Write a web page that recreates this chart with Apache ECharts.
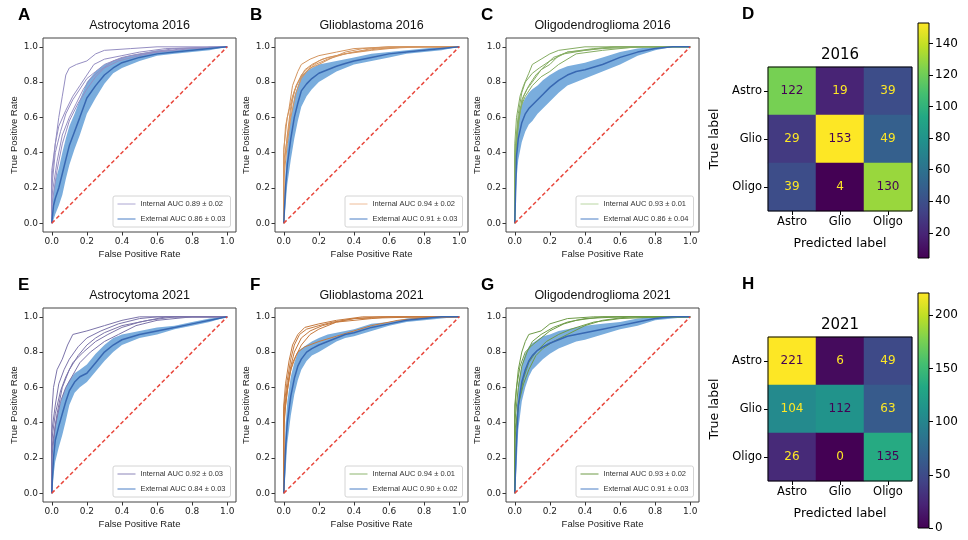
<!DOCTYPE html>
<html>
<head>
<meta charset="utf-8">
<script src="https://cdn.jsdelivr.net/npm/echarts@6/dist/echarts.min.js"></script>
<style>
  html, body { margin: 0; background: #fff; }
  #chart { width: 968px; height: 540px; }
</style>
</head>
<body>
<div id="chart"></div>
<script>
// ---- data ----
const fprTicks = [0, 0.2, 0.4, 0.6, 0.8, 1.0]
const chanceLine = [[0, 0], [1, 1]]
// common fpr grid for the external mean curve and its +/- band
const meanFpr = [0, 0.01, 0.02, 0.04, 0.06, 0.08, 0.1, 0.13, 0.16, 0.2, 0.25, 0.3, 0.35, 0.4, 0.5, 0.6, 0.7, 0.8, 0.9, 1.0]

// A - Astrocytoma 2016
const astro2016Mean = [0, 0.1, 0.14, 0.2, 0.28, 0.36, 0.44, 0.52, 0.6, 0.71, 0.78, 0.84, 0.88, 0.91, 0.94, 0.96, 0.97, 0.98, 0.99, 1]
const astro2016Low = [0, 0.02, 0.05, 0.1, 0.16, 0.25, 0.33, 0.42, 0.5, 0.62, 0.71, 0.79, 0.85, 0.88, 0.92, 0.95, 0.96, 0.97, 0.98, 1]
const astro2016High = [0, 0.18, 0.24, 0.31, 0.4, 0.48, 0.55, 0.62, 0.7, 0.8, 0.86, 0.9, 0.92, 0.94, 0.96, 0.98, 0.98, 0.99, 1, 1]
const astro2016Folds = [
    [[0, 0], [0, 0.3], [0.02, 0.45], [0.04, 0.6], [0.06, 0.72], [0.08, 0.84], [0.1, 0.88], [0.14, 0.9], [0.2, 0.92], [0.25, 0.96], [0.3, 0.98], [0.45, 0.99], [0.6, 1], [1, 1]],
    [[0, 0], [0, 0.2], [0.02, 0.4], [0.05, 0.52], [0.08, 0.62], [0.12, 0.7], [0.16, 0.76], [0.2, 0.82], [0.25, 0.86], [0.3, 0.9], [0.4, 0.94], [0.5, 0.96], [0.7, 0.99], [1, 1]],
    [[0, 0], [0, 0.15], [0.03, 0.35], [0.06, 0.5], [0.1, 0.6], [0.14, 0.68], [0.18, 0.76], [0.22, 0.82], [0.28, 0.87], [0.35, 0.92], [0.45, 0.95], [0.6, 0.97], [0.8, 0.99], [1, 1]],
    [[0, 0], [0, 0.25], [0.02, 0.45], [0.04, 0.55], [0.08, 0.64], [0.12, 0.72], [0.16, 0.78], [0.2, 0.84], [0.24, 0.9], [0.3, 0.93], [0.4, 0.95], [0.5, 0.97], [0.65, 0.99], [1, 1]],
    [[0, 0], [0, 0.1], [0.03, 0.3], [0.06, 0.45], [0.1, 0.58], [0.15, 0.68], [0.2, 0.76], [0.25, 0.83], [0.3, 0.88], [0.38, 0.92], [0.5, 0.95], [0.6, 0.97], [0.75, 0.99], [1, 1]],
]

// B - Glioblastoma 2016
const glio2016Mean = [0, 0.2, 0.33, 0.48, 0.6, 0.68, 0.75, 0.79, 0.82, 0.85, 0.87, 0.89, 0.905, 0.92, 0.94, 0.96, 0.97, 0.98, 0.99, 1]
const glio2016Low = [0, 0.1, 0.22, 0.36, 0.48, 0.58, 0.66, 0.72, 0.76, 0.8, 0.83, 0.86, 0.88, 0.9, 0.92, 0.94, 0.96, 0.97, 0.98, 1]
const glio2016High = [0, 0.3, 0.44, 0.6, 0.72, 0.78, 0.84, 0.86, 0.88, 0.9, 0.91, 0.92, 0.93, 0.94, 0.96, 0.97, 0.98, 0.99, 1, 1]
const glio2016Folds = [
    [[0, 0], [0, 0.4], [0.01, 0.55], [0.03, 0.65], [0.05, 0.78], [0.08, 0.86], [0.1, 0.9], [0.15, 0.93], [0.2, 0.95], [0.3, 0.97], [0.4, 0.99], [0.6, 1], [1, 1]],
    [[0, 0], [0, 0.3], [0.02, 0.5], [0.04, 0.66], [0.06, 0.75], [0.1, 0.84], [0.14, 0.88], [0.2, 0.92], [0.25, 0.94], [0.35, 0.96], [0.5, 0.99], [0.7, 1], [1, 1]],
    [[0, 0], [0, 0.42], [0.02, 0.6], [0.05, 0.72], [0.08, 0.8], [0.12, 0.87], [0.16, 0.9], [0.22, 0.93], [0.3, 0.95], [0.4, 0.97], [0.55, 0.99], [0.8, 1], [1, 1]],
    [[0, 0], [0, 0.35], [0.03, 0.55], [0.05, 0.7], [0.07, 0.78], [0.1, 0.83], [0.15, 0.88], [0.2, 0.9], [0.28, 0.94], [0.35, 0.97], [0.45, 0.99], [0.6, 1], [1, 1]],
    [[0, 0], [0, 0.25], [0.02, 0.45], [0.04, 0.6], [0.07, 0.74], [0.1, 0.82], [0.13, 0.86], [0.18, 0.9], [0.25, 0.93], [0.35, 0.96], [0.5, 0.98], [0.7, 1], [1, 1]],
]

// C - Oligodendroglioma 2016
const oligo2016Mean = [0, 0.38, 0.48, 0.57, 0.62, 0.65, 0.67, 0.7, 0.73, 0.77, 0.81, 0.84, 0.86, 0.87, 0.9, 0.94, 0.97, 0.99, 1, 1]
const oligo2016Low = [0, 0.25, 0.36, 0.46, 0.52, 0.56, 0.58, 0.62, 0.65, 0.69, 0.74, 0.78, 0.8, 0.82, 0.86, 0.9, 0.95, 0.98, 1, 1]
const oligo2016High = [0, 0.5, 0.6, 0.67, 0.71, 0.74, 0.76, 0.78, 0.81, 0.84, 0.87, 0.89, 0.9, 0.91, 0.94, 0.97, 0.99, 1, 1, 1]
const oligo2016Folds = [
    [[0, 0], [0, 0.45], [0.01, 0.6], [0.03, 0.72], [0.05, 0.78], [0.08, 0.85], [0.1, 0.9], [0.15, 0.93], [0.2, 0.96], [0.25, 0.98], [0.4, 1], [1, 1]],
    [[0, 0], [0, 0.35], [0.02, 0.55], [0.04, 0.7], [0.07, 0.76], [0.1, 0.8], [0.15, 0.87], [0.2, 0.9], [0.25, 0.95], [0.3, 0.97], [0.45, 0.99], [0.6, 1], [1, 1]],
    [[0, 0], [0, 0.3], [0.02, 0.58], [0.05, 0.72], [0.08, 0.78], [0.12, 0.84], [0.18, 0.9], [0.22, 0.94], [0.28, 0.96], [0.4, 0.98], [0.55, 1], [1, 1]],
    [[0, 0], [0, 0.4], [0.02, 0.62], [0.04, 0.74], [0.06, 0.8], [0.1, 0.85], [0.14, 0.88], [0.2, 0.92], [0.3, 0.97], [0.5, 0.99], [0.75, 1], [1, 1]],
    [[0, 0], [0, 0.28], [0.01, 0.5], [0.03, 0.65], [0.06, 0.72], [0.1, 0.78], [0.15, 0.83], [0.2, 0.86], [0.25, 0.9], [0.35, 0.96], [0.5, 0.98], [0.7, 1], [1, 1]],
]

// E - Astrocytoma 2021
const astro2021Mean = [0, 0.2, 0.3, 0.38, 0.45, 0.52, 0.58, 0.63, 0.66, 0.68, 0.74, 0.8, 0.84, 0.87, 0.9, 0.92, 0.94, 0.96, 0.98, 1]
const astro2021Low = [0, 0.1, 0.18, 0.26, 0.33, 0.41, 0.5, 0.57, 0.6, 0.63, 0.69, 0.75, 0.8, 0.84, 0.88, 0.9, 0.93, 0.95, 0.97, 1]
const astro2021High = [0, 0.3, 0.4, 0.48, 0.55, 0.6, 0.64, 0.68, 0.7, 0.73, 0.79, 0.84, 0.88, 0.9, 0.92, 0.94, 0.95, 0.97, 0.99, 1]
const astro2021Folds = [
    [[0, 0], [0, 0.45], [0.01, 0.6], [0.03, 0.7], [0.06, 0.76], [0.09, 0.84], [0.12, 0.9], [0.2, 0.92], [0.3, 0.95], [0.4, 0.98], [0.5, 1], [1, 1]],
    [[0, 0], [0, 0.35], [0.02, 0.5], [0.04, 0.62], [0.07, 0.7], [0.1, 0.76], [0.15, 0.83], [0.2, 0.88], [0.28, 0.92], [0.38, 0.96], [0.5, 0.99], [0.6, 1], [1, 1]],
    [[0, 0], [0, 0.3], [0.02, 0.45], [0.05, 0.58], [0.08, 0.66], [0.12, 0.74], [0.18, 0.8], [0.25, 0.86], [0.32, 0.9], [0.4, 0.94], [0.5, 0.97], [0.65, 1], [1, 1]],
    [[0, 0], [0, 0.25], [0.03, 0.45], [0.06, 0.6], [0.1, 0.7], [0.15, 0.78], [0.2, 0.84], [0.25, 0.88], [0.3, 0.91], [0.4, 0.95], [0.55, 0.98], [0.7, 1], [1, 1]],
    [[0, 0], [0, 0.2], [0.02, 0.38], [0.05, 0.52], [0.08, 0.6], [0.12, 0.67], [0.16, 0.74], [0.22, 0.8], [0.3, 0.86], [0.38, 0.9], [0.48, 0.95], [0.6, 0.98], [0.8, 1], [1, 1]],
]

// F - Glioblastoma 2021
const glio2021Mean = [0, 0.25, 0.4, 0.55, 0.65, 0.72, 0.76, 0.8, 0.82, 0.84, 0.86, 0.88, 0.9, 0.91, 0.94, 0.96, 0.98, 0.99, 1, 1]
const glio2021Low = [0, 0.12, 0.28, 0.44, 0.56, 0.64, 0.7, 0.75, 0.78, 0.8, 0.83, 0.86, 0.88, 0.89, 0.92, 0.95, 0.97, 0.98, 0.99, 1]
const glio2021High = [0, 0.38, 0.52, 0.66, 0.74, 0.8, 0.82, 0.84, 0.86, 0.88, 0.9, 0.91, 0.92, 0.93, 0.96, 0.97, 0.99, 1, 1, 1]
const glio2021Folds = [
    [[0, 0], [0, 0.5], [0.01, 0.62], [0.03, 0.75], [0.05, 0.84], [0.08, 0.9], [0.12, 0.94], [0.2, 0.96], [0.3, 0.98], [0.45, 1], [1, 1]],
    [[0, 0], [0, 0.45], [0.02, 0.6], [0.04, 0.72], [0.06, 0.8], [0.1, 0.88], [0.15, 0.92], [0.22, 0.95], [0.3, 0.97], [0.5, 0.99], [0.6, 1], [1, 1]],
    [[0, 0], [0, 0.4], [0.02, 0.58], [0.04, 0.7], [0.07, 0.78], [0.1, 0.84], [0.15, 0.9], [0.2, 0.93], [0.3, 0.97], [0.4, 0.99], [0.55, 1], [1, 1]],
    [[0, 0], [0, 0.35], [0.01, 0.5], [0.03, 0.65], [0.05, 0.74], [0.08, 0.8], [0.12, 0.83], [0.2, 0.86], [0.3, 0.89], [0.4, 0.92], [0.5, 0.95], [0.65, 0.98], [0.85, 1], [1, 1]],
    [[0, 0], [0, 0.48], [0.02, 0.64], [0.04, 0.76], [0.06, 0.84], [0.09, 0.9], [0.13, 0.93], [0.2, 0.95], [0.28, 0.97], [0.4, 0.99], [0.8, 1], [1, 1]],
]

// G - Oligodendroglioma 2021
const oligo2021Mean = [0, 0.3, 0.5, 0.63, 0.7, 0.75, 0.78, 0.81, 0.83, 0.85, 0.87, 0.89, 0.9, 0.91, 0.93, 0.95, 0.97, 0.99, 1, 1]
const oligo2021Low = [0, 0.15, 0.36, 0.52, 0.6, 0.66, 0.7, 0.73, 0.76, 0.79, 0.82, 0.84, 0.86, 0.87, 0.9, 0.93, 0.95, 0.98, 0.99, 1]
const oligo2021High = [0, 0.45, 0.62, 0.73, 0.79, 0.83, 0.85, 0.87, 0.89, 0.9, 0.92, 0.93, 0.94, 0.95, 0.96, 0.97, 0.99, 1, 1, 1]
const oligo2021Folds = [
    [[0, 0], [0, 0.5], [0.02, 0.7], [0.04, 0.8], [0.06, 0.86], [0.08, 0.9], [0.15, 0.92], [0.2, 0.96], [0.3, 0.99], [0.45, 1], [1, 1]],
    [[0, 0], [0, 0.4], [0.02, 0.6], [0.04, 0.72], [0.07, 0.8], [0.1, 0.86], [0.15, 0.9], [0.22, 0.94], [0.3, 0.97], [0.4, 0.99], [0.6, 1], [1, 1]],
    [[0, 0], [0, 0.3], [0.02, 0.5], [0.05, 0.62], [0.08, 0.7], [0.12, 0.78], [0.16, 0.82], [0.22, 0.86], [0.3, 0.9], [0.4, 0.95], [0.5, 0.98], [0.65, 1], [1, 1]],
    [[0, 0], [0, 0.35], [0.03, 0.55], [0.05, 0.65], [0.08, 0.74], [0.12, 0.8], [0.18, 0.86], [0.25, 0.9], [0.32, 0.93], [0.45, 0.97], [0.6, 0.99], [0.85, 1], [1, 1]],
    [[0, 0], [0, 0.45], [0.01, 0.6], [0.03, 0.72], [0.06, 0.8], [0.1, 0.84], [0.15, 0.88], [0.2, 0.92], [0.28, 0.96], [0.35, 0.98], [0.5, 1], [1, 1]],
]

// confusion matrices (rows = true label, cols = predicted label)
const classNames = ['Astro', 'Glio', 'Oligo']
const cm2016 = [
    [122, 19, 39],
    [29, 153, 49],
    [39, 4, 130],
]
const cm2021 = [
    [221, 6, 49],
    [104, 112, 63],
    [26, 0, 135],
]
const cbTicks2016 = [20, 40, 60, 80, 100, 120, 140]
const cbTicks2021 = [0, 50, 100, 150, 200]

// ---- styling ----
const VIRIDIS = ['#440154', '#482475', '#414487', '#355f8d', '#2a788e', '#21918c', '#22a884', '#44bf70', '#7ad151', '#bddf26', '#fde725']
const MEAN_COLOR = '#3868b2'
const BAND_COLOR = '#7aaddd'
const EXT_LEGEND = '#4a7fc6'
const LABEL_FONT = 'Liberation Sans'
const TICK_FONT = 'DejaVu Sans'

const rocPanels = [
    { letter: 'A', title: 'Astrocytoma 2016', x: 43, y: 38, folds: astro2016Folds, mean: astro2016Mean, low: astro2016Low, high: astro2016High, foldColor: '#958ec2', intLegend: '#aca6d2', intName: 'Internal AUC 0.89 ± 0.02', extName: 'External AUC 0.86 ± 0.03' },
    { letter: 'B', title: 'Glioblastoma 2016', x: 275, y: 38, folds: glio2016Folds, mean: glio2016Mean, low: glio2016Low, high: glio2016High, foldColor: '#d4955f', intLegend: '#eebc98', intName: 'Internal AUC 0.94 ± 0.02', extName: 'External AUC 0.91 ± 0.03' },
    { letter: 'C', title: 'Oligodendroglioma 2016', x: 506, y: 38, folds: oligo2016Folds, mean: oligo2016Mean, low: oligo2016Low, high: oligo2016High, foldColor: '#86ad63', intLegend: '#b9d6a2', intName: 'Internal AUC 0.93 ± 0.01', extName: 'External AUC 0.86 ± 0.04' },
    { letter: 'E', title: 'Astrocytoma 2021', x: 43, y: 308, folds: astro2021Folds, mean: astro2021Mean, low: astro2021Low, high: astro2021High, foldColor: '#7c74aa', intLegend: '#8c85b9', intName: 'Internal AUC 0.92 ± 0.03', extName: 'External AUC 0.84 ± 0.03' },
    { letter: 'F', title: 'Glioblastoma 2021', x: 275, y: 308, folds: glio2021Folds, mean: glio2021Mean, low: glio2021Low, high: glio2021High, foldColor: '#c67a3e', intLegend: '#8db56e', intName: 'Internal AUC 0.94 ± 0.01', extName: 'External AUC 0.90 ± 0.02' },
    { letter: 'G', title: 'Oligodendroglioma 2021', x: 506, y: 308, folds: oligo2021Folds, mean: oligo2021Mean, low: oligo2021Low, high: oligo2021High, foldColor: '#6e9b47', intLegend: '#6e9b47', intName: 'Internal AUC 0.93 ± 0.02', extName: 'External AUC 0.91 ± 0.03' },
]
const ROC_W = 193
const ROC_H = 194

const cmPanels = [
    { letter: 'D', year: '2016', cm: cm2016, ticks: cbTicks2016, x: 768, y: 67, cbTop: 23, letterY: 14 },
    { letter: 'H', year: '2021', cm: cm2021, ticks: cbTicks2021, x: 768, y: 337, cbTop: 293, letterY: 284 },
]
const CM_SIZE = 144

const grid = []
const xAxis = []
const yAxis = []
const series = []
const legend = []
const title = []
const graphic = []
const visualMap = []

const letter = (text, x, y) => ({
    type: 'text',
    x: x,
    y: y,
    style: { text: text, fill: '#000', font: 'bold 17px ' + LABEL_FONT, textVerticalAlign: 'middle', verticalAlign: 'middle' },
})

rocPanels.forEach((p) => {
    const gi = grid.length
    grid.push({ left: p.x, top: p.y, width: ROC_W, height: ROC_H, show: true, z: 10, backgroundColor: 'transparent', borderColor: '#444', borderWidth: 1 })
    const tickLabel = { customValues: fprTicks, formatter: (v) => v.toFixed(1), fontSize: 9, color: '#222', fontFamily: TICK_FONT }
    const tick = { show: true, length: 3.5, customValues: fprTicks, lineStyle: { color: '#333' } }
    xAxis.push({
        type: 'value', gridIndex: gi, min: -0.05, max: 1.05,
        splitLine: { show: false }, axisLine: { show: false, onZero: false },
        axisTick: tick,
        axisLabel: Object.assign({ margin: 5 }, tickLabel),
        name: 'False Positive Rate', nameLocation: 'middle', nameGap: 17,
        nameTextStyle: { fontSize: 9.5, color: '#222', fontFamily: LABEL_FONT },
    })
    yAxis.push({
        type: 'value', gridIndex: gi, min: -0.05, max: 1.05,
        splitLine: { show: false }, axisLine: { show: false, onZero: false },
        axisTick: tick,
        axisLabel: Object.assign({ margin: 5 }, tickLabel),
        name: 'True Positive Rate', nameLocation: 'middle', nameGap: 24,
        nameTextStyle: { fontSize: 9.5, color: '#222', fontFamily: LABEL_FONT },
    })

    // shaded +/- band of the external mean curve
    series.push({
        type: 'custom', xAxisIndex: gi, yAxisIndex: gi, silent: true, z: 1,
        data: meanFpr.map((x, k) => [x, p.low[k], p.high[k]]),
        encode: { x: 0, y: [1, 2] },
        renderItem: (params, api) => {
            if (params.dataIndex !== 0) return null
            const upper = meanFpr.map((x, k) => api.coord([x, p.high[k]]))
            const lower = meanFpr.map((x, k) => api.coord([x, p.low[k]])).reverse()
            return { type: 'polygon', shape: { points: upper.concat(lower) }, style: { fill: BAND_COLOR } }
        },
    })
    // internal cross-validation folds
    p.folds.forEach((fold) => {
        series.push({
            type: 'line', name: p.intName, xAxisIndex: gi, yAxisIndex: gi, data: fold,
            symbol: 'none', silent: true, z: 3,
            lineStyle: { color: p.foldColor, width: 1 }, itemStyle: { color: p.foldColor },
        })
    })
    // external mean
    series.push({
        type: 'line', name: p.extName, xAxisIndex: gi, yAxisIndex: gi,
        data: meanFpr.map((x, k) => [x, p.mean[k]]),
        symbol: 'none', silent: true, z: 4,
        lineStyle: { color: MEAN_COLOR, width: 1.5 }, itemStyle: { color: MEAN_COLOR },
    })
    // chance line
    series.push({
        type: 'line', xAxisIndex: gi, yAxisIndex: gi, data: chanceLine,
        symbol: 'none', silent: true, z: 5,
        lineStyle: { color: '#e8473c', width: 1.5, type: [4, 2.5] },
    })

    legend.push({
        left: p.x + 70, top: p.y + 158, orient: 'vertical',
        padding: [4, 5, 4, 4], itemGap: 7, itemWidth: 18, itemHeight: 9,
        borderColor: '#d4d4d4', borderWidth: 1, borderRadius: 2, backgroundColor: 'rgba(255,255,255,0.85)',
        selectedMode: false,
        textStyle: { fontSize: 7.5, color: '#333', fontFamily: LABEL_FONT },
        data: [
            { name: p.intName, itemStyle: { opacity: 0 }, lineStyle: { color: p.intLegend, width: 1 } },
            { name: p.extName, itemStyle: { opacity: 0 }, lineStyle: { color: EXT_LEGEND, width: 1 } },
        ],
    })
    title.push({
        text: p.title, left: p.x + ROC_W / 2, top: p.y - 12, padding: 0,
        textAlign: 'center', textVerticalAlign: 'middle',
        textStyle: { fontSize: 12.5, fontWeight: 'normal', color: '#111', fontFamily: LABEL_FONT },
    })
    graphic.push(letter(p.letter, p.x - 25, p.y - 23))
})

cmPanels.forEach((c) => {
    const flat = [].concat(...c.cm)
    const vmin = Math.min(...flat)
    const vmax = Math.max(...flat)
    const mid = (vmin + vmax) / 2

    // matrix
    const gi = grid.length
    grid.push({ left: c.x, top: c.y, width: CM_SIZE, height: CM_SIZE, show: true, z: 10, backgroundColor: 'transparent', borderColor: '#000', borderWidth: 1 })
    const catLabel = { fontSize: 11.5, color: '#000', fontFamily: TICK_FONT }
    xAxis.push({
        type: 'category', gridIndex: gi, data: classNames,
        axisLine: { show: false },
        axisTick: { show: true, alignWithLabel: true, length: 4, lineStyle: { color: '#000' } },
        axisLabel: Object.assign({ margin: 5 }, catLabel),
        name: 'Predicted label', nameLocation: 'middle', nameGap: 26,
        nameTextStyle: { fontSize: 12.5, color: '#000', fontFamily: TICK_FONT },
    })
    yAxis.push({
        type: 'category', gridIndex: gi, data: classNames, inverse: true,
        axisLine: { show: false },
        axisTick: { show: true, alignWithLabel: true, length: 4, lineStyle: { color: '#000' } },
        axisLabel: Object.assign({ margin: 6 }, catLabel),
        name: 'True label', nameLocation: 'middle', nameGap: 47,
        nameTextStyle: { fontSize: 12.5, color: '#000', fontFamily: TICK_FONT },
    })
    const cells = []
    c.cm.forEach((row, r) => {
        row.forEach((v, col) => {
            cells.push({ value: [col, r, v], label: { color: v > mid ? '#440154' : '#fde725' } })
        })
    })
    visualMap.push({ show: false, seriesIndex: series.length, dimension: 2, min: vmin, max: vmax, inRange: { color: VIRIDIS } })
    series.push({
        type: 'heatmap', xAxisIndex: gi, yAxisIndex: gi, data: cells, silent: true,
        emphasis: { disabled: true },
        label: { show: true, fontSize: 12, fontFamily: TICK_FONT, formatter: (prm) => prm.value[2] },
    })

    // colorbar
    const ci = grid.length
    grid.push({ left: 918, top: c.cbTop, width: 11, height: 235, show: true, z: 10, backgroundColor: 'transparent', borderColor: '#000', borderWidth: 1 })
    xAxis.push({ type: 'category', gridIndex: ci, data: ['cb'], show: false })
    yAxis.push({
        type: 'value', gridIndex: ci, position: 'right', min: vmin, max: vmax,
        splitLine: { show: false }, axisLine: { show: false, onZero: false },
        axisTick: { show: true, length: 4, customValues: c.ticks, lineStyle: { color: '#000' } },
        axisLabel: { customValues: c.ticks, margin: 6, fontSize: 12, color: '#000', fontFamily: TICK_FONT },
    })
    series.push({
        type: 'bar', xAxisIndex: ci, yAxisIndex: ci, stack: 'cb' + c.year, data: [vmin],
        barWidth: '100%', silent: true, itemStyle: { color: 'transparent' },
    })
    series.push({
        type: 'bar', xAxisIndex: ci, yAxisIndex: ci, stack: 'cb' + c.year, data: [vmax - vmin],
        barWidth: '100%', silent: true,
        itemStyle: {
            color: new echarts.graphic.LinearGradient(0, 0, 0, 1,
                VIRIDIS.slice().reverse().map((col, k) => ({ offset: k / (VIRIDIS.length - 1), color: col }))),
        },
    })

    title.push({
        text: c.year, left: c.x + CM_SIZE / 2, top: c.y - 12, padding: 0,
        textAlign: 'center', textVerticalAlign: 'middle',
        textStyle: { fontSize: 15, fontWeight: 'normal', color: '#000', fontFamily: TICK_FONT },
    })
    graphic.push(letter(c.letter, 742, c.letterY))
})

const chart = echarts.init(document.getElementById('chart'))
chart.setOption({
    animation: false,
    backgroundColor: '#fff',
    title: title,
    grid: grid,
    xAxis: xAxis,
    yAxis: yAxis,
    legend: legend,
    visualMap: visualMap,
    graphic: graphic,
    series: series,
})
</script>
</body>
</html>
